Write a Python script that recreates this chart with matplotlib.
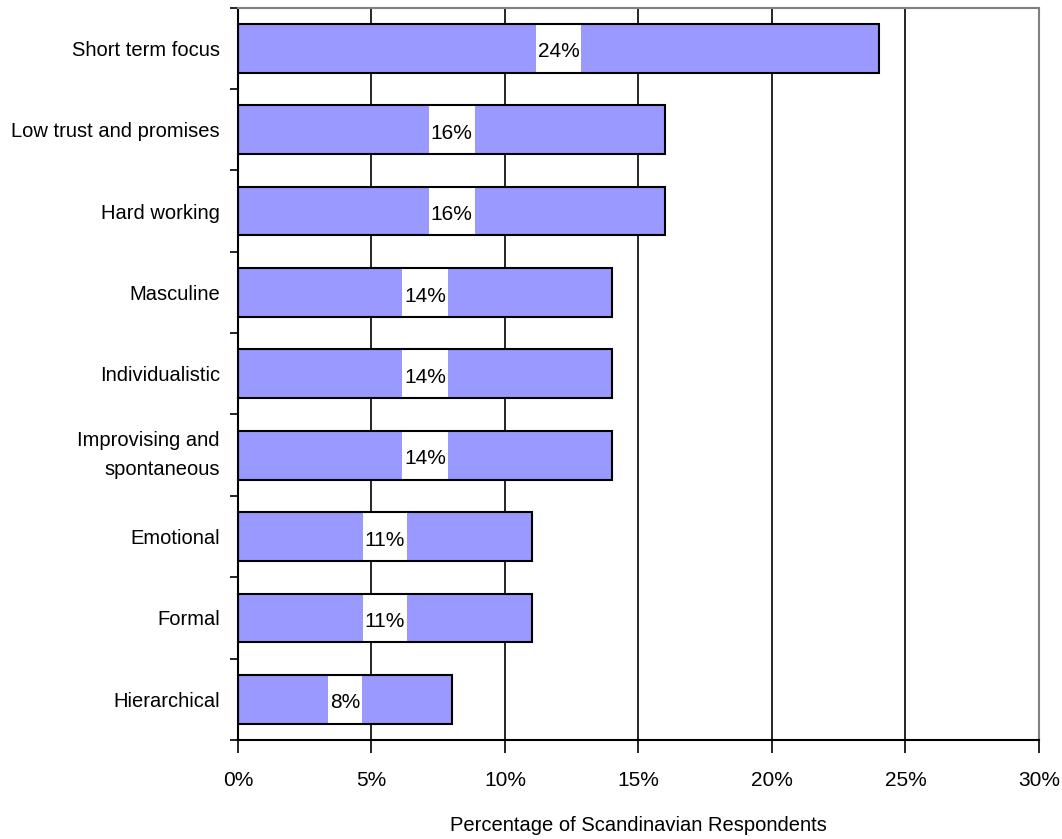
import matplotlib
matplotlib.use("Agg")
import matplotlib.pyplot as plt
from matplotlib.patches import Rectangle
from matplotlib.ticker import FixedLocator, FuncFormatter

plt.rcParams['font.family'] = ['Liberation Sans', 'DejaVu Sans']

traits = ["Short term focus", "Low trust and promises", "Hard working", "Masculine",
          "Individualistic", "Improvising and\nspontaneous", "Emotional", "Formal",
          "Hierarchical"]
pct = [24, 16, 16, 14, 14, 14, 11, 11, 8]

fig = plt.figure(figsize=(10.62, 8.39), dpi=100)
ax = fig.add_axes([0.2241, 0.118, 0.7542, 0.873])

ypos = list(range(len(traits)))
bar_h = 0.6
ax.barh(ypos, pct, height=bar_h, color='#9999FF', edgecolor='none', zorder=2)

ax.set_xlim(0, 30)
ax.set_ylim(len(traits) - 0.5, -0.5)

# value labels sit on a white strip cut through the bar
fig.canvas.draw()
renderer = fig.canvas.get_renderer()
inv = ax.transData.inverted()
for y, v in zip(ypos, pct):
    t = ax.text(v / 2, y + 0.02, f"{v}%", ha='center', va='center_baseline',
                fontsize=15, zorder=5)
    bb = t.get_window_extent(renderer)
    x0 = inv.transform((bb.x0 - 2, 0))[0]
    x1 = inv.transform((bb.x1 + 2, 0))[0]
    ax.add_patch(Rectangle((x0, y - bar_h / 2), x1 - x0, bar_h, facecolor='white',
                           edgecolor='none', zorder=3))
# bar outlines on top
ax.barh(ypos, pct, height=bar_h, color='none', edgecolor='black', linewidth=1.5, zorder=4)

ax.xaxis.set_major_locator(FixedLocator([0, 5, 10, 15, 20, 25, 30]))
ax.xaxis.set_major_formatter(FuncFormatter(lambda x, p: f"{x:.0f}%"))
for gx in [5, 10, 15, 20, 25]:
    ax.axvline(gx, color='black', linewidth=1.2, zorder=1)

ax.set_yticks(ypos)
ax.set_yticklabels(traits, fontsize=14.5, linespacing=1.7)
for lab in ax.get_yticklabels():
    lab.set_va('center' if '\n' in lab.get_text() else 'center_baseline')
ax.yaxis.set_minor_locator(FixedLocator([i - 0.5 for i in range(len(traits) + 1)]))
ax.tick_params(axis='y', which='major', length=0, pad=13)
ax.tick_params(axis='y', which='minor', length=6, width=1.2, direction='out')
ax.tick_params(axis='x', length=9, width=1.2, direction='out', labelsize=15, pad=13)

for side in ['left', 'bottom']:
    ax.spines[side].set_color('black')
    ax.spines[side].set_linewidth(1.5)
for side in ['top', 'right']:
    ax.spines[side].set_color('#808080')
    ax.spines[side].set_linewidth(1.5)

ax.set_xlabel("Percentage of Scandinavian Respondents", fontsize=14.5, labelpad=19)

fig.savefig("out.png", dpi=100)
